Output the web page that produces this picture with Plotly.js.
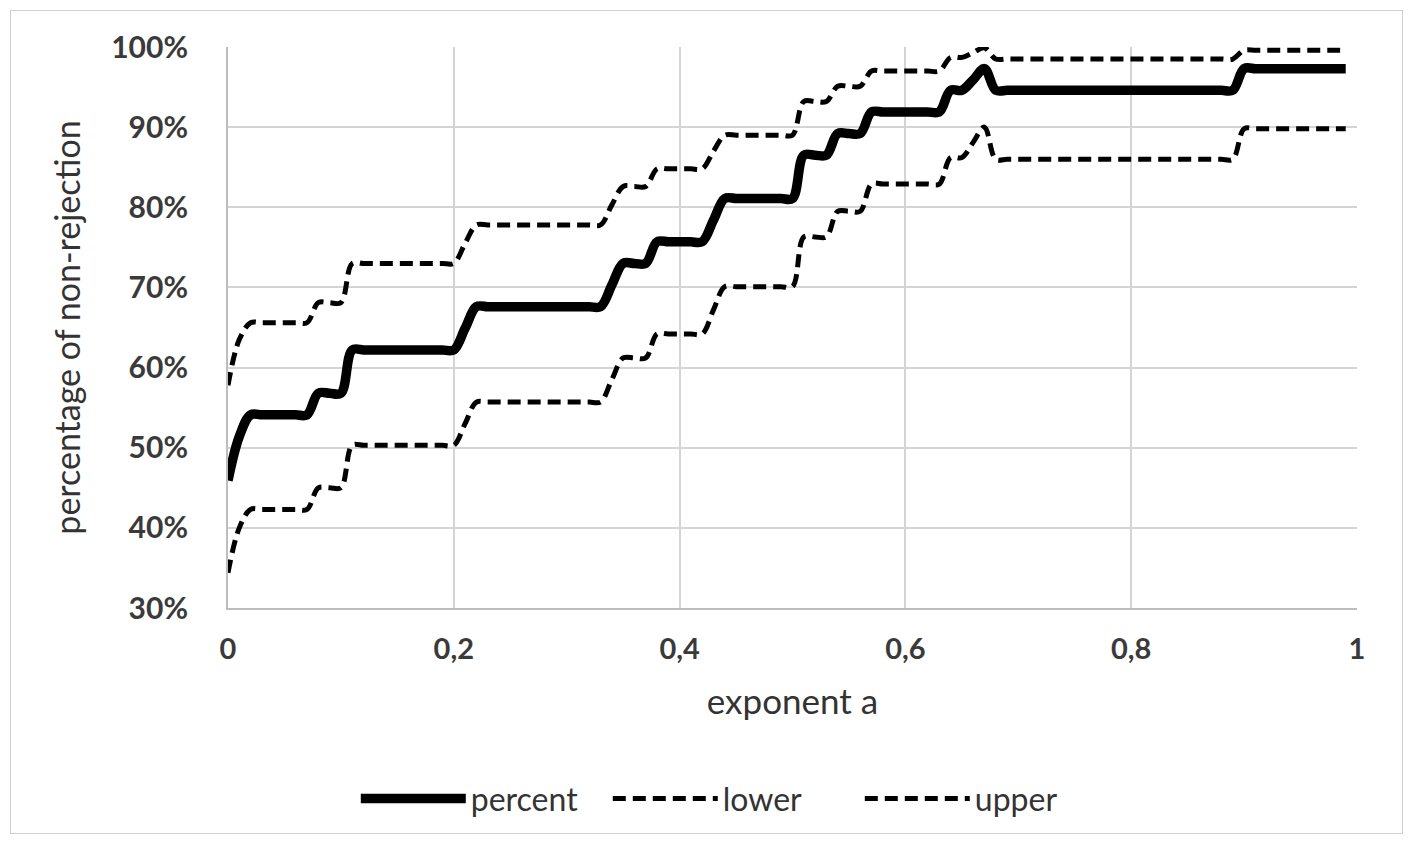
<!DOCTYPE html>
<html>
<head>
<meta charset="utf-8">
<script src="https://cdn.plot.ly/plotly-3.0.1.min.js"></script>
<style>
  html, body { margin: 0; padding: 0; background: #ffffff; }
  #frame { position: absolute; left: 10px; top: 10px; width: 1391px; height: 822px; border: 1px solid #d0d0d0; }
  #chart { position: absolute; left: 0; top: 0; width: 1413px; height: 842px; }
</style>
</head>
<body>
<div id="frame"></div>
<div id="chart"></div>
<script>
const exponentA = [
  0.00, 0.01, 0.02, 0.03, 0.04, 0.05, 0.06, 0.07, 0.08, 0.09,
  0.10, 0.11, 0.12, 0.13, 0.14, 0.15, 0.16, 0.17, 0.18, 0.19,
  0.20, 0.21, 0.22, 0.23, 0.24, 0.25, 0.26, 0.27, 0.28, 0.29,
  0.30, 0.31, 0.32, 0.33, 0.34, 0.35, 0.36, 0.37, 0.38, 0.39,
  0.40, 0.41, 0.42, 0.43, 0.44, 0.45, 0.46, 0.47, 0.48, 0.49,
  0.50, 0.51, 0.52, 0.53, 0.54, 0.55, 0.56, 0.57, 0.58, 0.59,
  0.60, 0.61, 0.62, 0.63, 0.64, 0.65, 0.66, 0.67, 0.68, 0.69,
  0.70, 0.71, 0.72, 0.73, 0.74, 0.75, 0.76, 0.77, 0.78, 0.79,
  0.80, 0.81, 0.82, 0.83, 0.84, 0.85, 0.86, 0.87, 0.88, 0.89,
  0.90, 0.91, 0.92, 0.93, 0.94, 0.95, 0.96, 0.97, 0.98, 0.99
];

const percentValues = [
  45.9, 51.4, 54.1, 54.1, 54.1, 54.1, 54.1, 54.1, 56.8, 56.8,
  56.8, 62.2, 62.2, 62.2, 62.2, 62.2, 62.2, 62.2, 62.2, 62.2,
  62.2, 64.9, 67.6, 67.6, 67.6, 67.6, 67.6, 67.6, 67.6, 67.6,
  67.6, 67.6, 67.6, 67.6, 70.3, 73.0, 73.0, 73.0, 75.7, 75.7,
  75.7, 75.7, 75.7, 78.4, 81.1, 81.1, 81.1, 81.1, 81.1, 81.1,
  81.1, 86.5, 86.5, 86.5, 89.2, 89.2, 89.2, 91.9, 91.9, 91.9,
  91.9, 91.9, 91.9, 91.9, 94.6, 94.6, 95.9, 97.3, 94.6, 94.6,
  94.6, 94.6, 94.6, 94.6, 94.6, 94.6, 94.6, 94.6, 94.6, 94.6,
  94.6, 94.6, 94.6, 94.6, 94.6, 94.6, 94.6, 94.6, 94.6, 94.6,
  97.3, 97.3, 97.3, 97.3, 97.3, 97.3, 97.3, 97.3, 97.3, 97.3
];

const lowerValues = [
  34.4, 40.0, 42.3, 42.3, 42.3, 42.3, 42.3, 42.3, 45.0, 45.0,
  45.0, 50.3, 50.3, 50.3, 50.3, 50.3, 50.3, 50.3, 50.3, 50.3,
  50.3, 53.0, 55.7, 55.7, 55.7, 55.7, 55.7, 55.7, 55.7, 55.7,
  55.7, 55.7, 55.7, 55.7, 58.5, 61.2, 61.2, 61.2, 64.2, 64.2,
  64.2, 64.2, 64.2, 67.2, 70.1, 70.1, 70.1, 70.1, 70.1, 70.1,
  70.1, 76.3, 76.3, 76.3, 79.5, 79.5, 79.5, 82.9, 82.9, 82.9,
  82.9, 82.9, 82.9, 82.9, 86.2, 86.2, 88.1, 90.0, 86.0, 86.0,
  86.0, 86.0, 86.0, 86.0, 86.0, 86.0, 86.0, 86.0, 86.0, 86.0,
  86.0, 86.0, 86.0, 86.0, 86.0, 86.0, 86.0, 86.0, 86.0, 86.0,
  89.8, 89.8, 89.8, 89.8, 89.8, 89.8, 89.8, 89.8, 89.8, 89.8
];

const upperValues = [
  57.8, 63.5, 65.6, 65.6, 65.6, 65.6, 65.6, 65.6, 68.1, 68.1,
  68.1, 73.0, 73.0, 73.0, 73.0, 73.0, 73.0, 73.0, 73.0, 73.0,
  73.0, 75.5, 77.8, 77.8, 77.8, 77.8, 77.8, 77.8, 77.8, 77.8,
  77.8, 77.8, 77.8, 77.8, 80.3, 82.6, 82.6, 82.6, 84.8, 84.8,
  84.8, 84.8, 84.8, 87.0, 89.0, 89.0, 89.0, 89.0, 89.0, 89.0,
  89.0, 93.2, 93.2, 93.2, 95.1, 95.1, 95.1, 97.0, 97.0, 97.0,
  97.0, 97.0, 97.0, 97.0, 98.7, 98.7, 99.3, 99.9, 98.5, 98.5,
  98.5, 98.5, 98.5, 98.5, 98.5, 98.5, 98.5, 98.5, 98.5, 98.5,
  98.5, 98.5, 98.5, 98.5, 98.5, 98.5, 98.5, 98.5, 98.5, 98.5,
  99.6, 99.6, 99.6, 99.6, 99.6, 99.6, 99.6, 99.6, 99.6, 99.6
];

const seriesNames = ['percent', 'lower', 'upper'];
const xTickVals = [0, 0.2, 0.4, 0.6, 0.8, 1];
const xTickText = ['0', '0,2', '0,4', '0,6', '0,8', '1'];
const yTickVals = [30, 40, 50, 60, 70, 80, 90, 100];
const yTickText = ['30%', '40%', '50%', '60%', '70%', '80%', '90%', '100%'];

const FONT = 'Lato, "Open Sans", "Liberation Sans", sans-serif';

const traces = [
  {
    x: exponentA, y: percentValues, name: seriesNames[0],
    type: 'scatter', mode: 'lines',
    line: { color: '#000000', width: 9.5, shape: 'spline', smoothing: 1 },
    hoverinfo: 'skip'
  },
  {
    x: exponentA, y: lowerValues, name: seriesNames[1],
    type: 'scatter', mode: 'lines',
    line: { color: '#000000', width: 5, dash: '13px,7px', shape: 'spline', smoothing: 1 },
    hoverinfo: 'skip'
  },
  {
    x: exponentA, y: upperValues, name: seriesNames[2],
    type: 'scatter', mode: 'lines',
    line: { color: '#000000', width: 5, dash: '13px,7px', shape: 'spline', smoothing: 1 },
    hoverinfo: 'skip'
  }
];

const layout = {
  width: 1413, height: 842,
  margin: { l: 228, r: 56, t: 47, b: 234, autoexpand: false },
  paper_bgcolor: 'rgba(0,0,0,0)',
  plot_bgcolor: '#ffffff',
  font: { family: FONT, color: '#3a3a3a' },
  showlegend: true,
  legend: {
    orientation: 'h',
    x: 0.448, xanchor: 'center',
    y: -0.34, yanchor: 'middle',
    font: { family: FONT, size: 32, color: '#333333' },
    itemwidth: 105,
    entrywidth: 132,
    entrywidthmode: 'pixels',
    tracegroupgap: 0,
    bgcolor: 'rgba(0,0,0,0)'
  },
  xaxis: {
    range: [0, 1],
    tickvals: xTickVals, ticktext: xTickText,
    showgrid: true, gridcolor: '#d4d4d4', gridwidth: 2,
    showline: true, linecolor: '#bdbdbd', linewidth: 2,
    zeroline: false, ticks: '',
    ticklabelstandoff: 14,
    tickfont: { family: FONT, size: 29, color: '#3a3a3a', weight: 'bold' },
    title: { text: 'exponent a', font: { family: FONT, size: 35, color: '#333333' }, standoff: 26 },
    automargin: false, fixedrange: true
  },
  yaxis: {
    range: [30, 100],
    tickvals: yTickVals, ticktext: yTickText,
    showgrid: true, gridcolor: '#d4d4d4', gridwidth: 2,
    showline: true, linecolor: '#bdbdbd', linewidth: 2,
    zeroline: false, ticks: '',
    ticklabelstandoff: 32,
    tickfont: { family: FONT, size: 30, color: '#3a3a3a', weight: 'bold' },
    title: { text: 'percentage of non-rejection', font: { family: FONT, size: 34, color: '#333333' }, standoff: 20 },
    automargin: false, fixedrange: true
  }
};

Plotly.newPlot('chart', traces, layout, { displayModeBar: false, staticPlot: true });
</script>
</body>
</html>
